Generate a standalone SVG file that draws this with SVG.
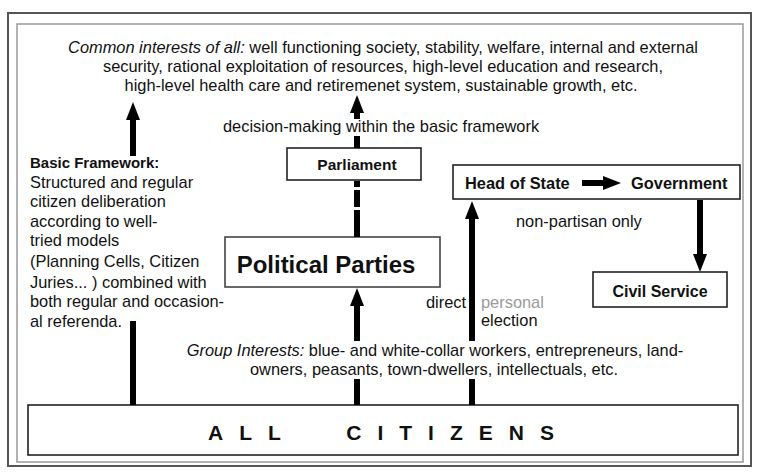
<svg xmlns="http://www.w3.org/2000/svg" width="758" height="473" viewBox="0 0 758 473">
<style>
  text { font-family: "Liberation Sans", Arial, sans-serif; fill: #111; }
  .t { font-size: 16.4px; }
  .b { font-weight: bold; }
  .i { font-style: italic; }
  .box { fill: #fff; stroke: #222; stroke-width: 1.6; }
  .shaft { stroke: #000; stroke-width: 6; fill: none; }
  .arr { stroke: #000; stroke-width: 6; fill: none; marker-end: url(#head); }
</style>
<defs>
  <marker id="head" markerUnits="userSpaceOnUse" markerWidth="18" markerHeight="14" refX="0" refY="7" orient="auto" viewBox="0 0 18 14">
    <path d="M0,0 L18,7 L0,14 Z" fill="#000"/>
  </marker>
</defs>
<rect x="0" y="0" width="758" height="473" fill="#fff"/>
<g id="frame">
  <rect x="8" y="13" width="743" height="453" fill="none" stroke="#555" stroke-width="2"/>
  <rect x="17" y="24" width="726" height="438" fill="none" stroke="#999" stroke-width="1.5"/>
</g>

<g id="common-interests">
  <text class="t" x="383" y="53" text-anchor="middle"><tspan class="i">Common interests of all:</tspan> well functioning society, stability, welfare, internal and external</text>
  <text class="t" x="383" y="72" text-anchor="middle">security, rational exploitation of resources, high-level education and research,</text>
  <text class="t" x="381" y="91" text-anchor="middle">high-level health care and retiremenet system, sustainable growth, etc.</text>
</g>

<g id="decision-label">
  <text class="t" x="223" y="132">decision-making within the basic framework</text>
</g>

<g id="parliament">
  <rect class="box" x="287" y="148" width="134" height="32"/>
  <text class="t b" x="357" y="170" text-anchor="middle" style="font-size:15.5px">Parliament</text>
</g>

<g id="basic-framework">
  <text class="t b" x="30" y="168" style="font-size:15px">Basic Framework:</text>
  <text class="t" x="30" y="188">Structured and regular</text>
  <text class="t" x="30" y="207">citizen deliberation</text>
  <text class="t" x="30" y="227">according to well-</text>
  <text class="t" x="30" y="246">tried models</text>
  <text class="t" x="30" y="267">(Planning Cells, Citizen</text>
  <text class="t" x="30" y="288">Juries... ) combined with</text>
  <text class="t" x="30" y="307">both regular and occasion-</text>
  <text class="t" x="30" y="327">al  referenda.</text>
</g>

<g id="head-of-state-government">
  <rect class="box" x="453" y="165" width="287" height="34"/>
  <text class="t b" x="465" y="189">Head of State</text>
  <text class="t b" x="631" y="189">Government</text>
</g>

<g id="non-partisan-label">
  <text class="t" x="516" y="227">non-partisan only</text>
</g>

<g id="political-parties">
  <rect class="box" x="225" y="237" width="215" height="50" style="stroke:#444"/>
  <text class="b" x="326" y="273" text-anchor="middle" style="font-size:24px">Political Parties</text>
</g>

<g id="civil-service">
  <rect class="box" x="593" y="272" width="134" height="35"/>
  <text class="t b" x="660" y="297" text-anchor="middle" style="font-size:16px">Civil Service</text>
</g>

<g id="election-label">
  <text class="t" x="426" y="308">direct</text>
  <text class="t" x="481" y="308" style="fill:#9a9a9a">personal</text>
  <text class="t" x="481" y="326">election</text>
</g>

<g id="group-interests">
  <text class="t" x="435" y="356" text-anchor="middle"><tspan class="i">Group Interests:</tspan> blue- and white-collar workers, entrepreneurs, land-</text>
  <text class="t" x="434" y="375" text-anchor="middle">owners, peasants, town-dwellers, intellectuals, etc.</text>
</g>

<g id="all-citizens">
  <rect class="box" x="28" y="405" width="710" height="50"/>
  <text class="b" x="208" y="440" style="font-size:21px;letter-spacing:16px;word-spacing:28px">ALL CITIZENS</text>
</g>

<g id="connectors">
  <!-- left: all citizens to common interests -->
  <line class="shaft" x1="133" y1="405" x2="133" y2="321"/>
  <line class="arr" x1="133" y1="156" x2="133" y2="120"/>
  <!-- middle: all citizens to political parties -->
  <line class="shaft" x1="357" y1="405" x2="357" y2="379"/>
  <line class="arr" x1="357" y1="341" x2="357" y2="306"/>
  <!-- political parties to parliament (broken) -->
  <line class="shaft" x1="357" y1="237" x2="357" y2="210"/>
  <line class="shaft" x1="357" y1="207" x2="357" y2="190"/>
  <line class="shaft" x1="357" y1="187" x2="357" y2="181"/>
  <!-- parliament to common interests -->
  <line class="shaft" x1="357" y1="148" x2="357" y2="136"/>
  <line class="arr" x1="357" y1="119" x2="357" y2="113"/>
  <!-- right: all citizens to head of state -->
  <line class="shaft" x1="472" y1="405" x2="472" y2="379"/>
  <line class="arr" x1="472" y1="341" x2="472" y2="219"/>
  <!-- head of state to government -->
  <line class="arr" x1="582" y1="183" x2="603" y2="183"/>
  <!-- government to civil service -->
  <line class="arr" x1="700" y1="200" x2="700" y2="254"/>
</g>
</svg>
